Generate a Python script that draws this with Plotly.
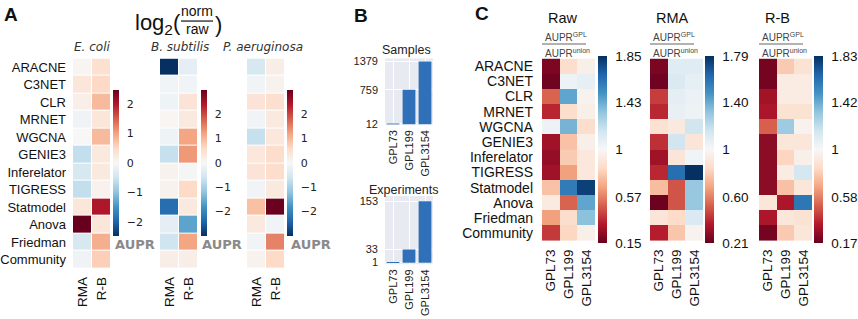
import plotly.graph_objects as go

W, H = 858, 319

# ---------------- data ----------------
methods = ["ARACNE", "C3NET", "CLR", "MRNET", "WGCNA", "GENIE3", "Inferelator",
           "TIGRESS", "Statmodel", "Anova", "Friedman", "Community"]
norms = ["RMA", "R-B"]
species = ["E. coli", "B. subtilis", "P. aeruginosa"]

# Panel A: log2(norm/raw) of AUPR
ecoli_rma = [0.05, 0.3, 0.15, -0.1, 0.0, -0.6, -0.4, -0.6, 0.3, 2.47, -0.4, -0.1]
ecoli_rb = [0.4, 0.5, 0.8, 0.3, 0.8, 0.25, 0.25, 0.1, 2.0, 0.3, 0.9, 0.6]
bsub_rma = [-3.0, -0.1, -0.15, 0.05, -0.15, -0.7, 0.1, 0.1, -2.3, -0.3, -0.6, 0.2]
bsub_rb = [-0.3, -0.1, 0.4, 0.3, 1.2, 1.3, -0.05, 0.6, 0.3, -1.6, 1.2, 0.2]
paer_rma = [-0.5, -0.1, 0.4, -0.1, -0.7, 0.35, 0.4, -0.1, 0.9, 0.3, -0.1, 0.1]
paer_rb = [0.2, 0.1, 0.5, 0.3, 0.35, 0.55, 0.55, 0.3, 2.98, -0.1, 1.5, 0.6]
a_limits = [2.47, 3.0, 3.0]
a_ticks = [-2, -1, 0, 1, 2]
a_ticktext = ["\u22122", "\u22121", "0", "1", "2"]

# Panel B
platforms = ["GPL73", "GPL199", "GPL3154"]
samples = [12, 759, 1379]
experiments = [1, 33, 153]

# Panel C: AUPR_GPL / AUPR_union
raw_gpl73 = [0.2, 0.17, 0.5, 0.35, 1.05, 0.28, 0.25, 0.28, 0.75, 0.92, 0.65, 0.4]
raw_gpl199 = [0.85, 1.05, 1.45, 0.85, 1.4, 0.75, 0.78, 0.65, 1.6, 0.5, 0.85, 0.82]
raw_gpl3154 = [0.95, 1.08, 0.97, 0.95, 0.85, 0.95, 0.9, 0.9, 1.8, 1.45, 1.35, 0.95]
rma_gpl73 = [0.25, 0.23, 0.45, 0.4, 0.88, 0.42, 0.33, 0.4, 0.75, 0.22, 0.9, 0.38]
rma_gpl199 = [1.1, 1.12, 1.08, 1.06, 0.92, 1.15, 0.9, 1.6, 0.5, 0.5, 0.85, 0.78]
rma_gpl3154 = [1.1, 1.07, 1.05, 1.04, 1.15, 0.9, 1.03, 1.79, 1.3, 1.3, 1.12, 0.97]
rb_gpl73 = [0.2, 0.2, 0.3, 0.32, 0.5, 0.25, 0.25, 0.25, 0.25, 0.9, 0.32, 0.2]
rb_gpl199 = [0.78, 0.93, 0.93, 0.88, 1.3, 0.9, 0.82, 0.93, 0.75, 0.32, 0.9, 0.78]
rb_gpl3154 = [0.88, 0.93, 0.93, 0.88, 0.97, 0.9, 0.95, 1.15, 0.9, 1.6, 0.88, 0.9]
c_titles = ["Raw", "RMA", "R-B"]
c_ticks = [[0.15, 0.57, 1, 1.43, 1.85], [0.21, 0.60, 1, 1.40, 1.79], [0.17, 0.58, 1, 1.42, 1.83]]
c_ticktext = [["0.15", "0.57", "1", "1.43", "1.85"], ["0.21", "0.60", "1", "1.40", "1.79"],
              ["0.17", "0.58", "1", "1.42", "1.83"]]

# ---------------- styling ----------------
RDBU = ['#67001f', '#b2182b', '#d6604d', '#f4a582', '#fddbc7', '#f7f7f7',
        '#d1e5f0', '#92c5de', '#4393c3', '#2166ac', '#053061']
rdbu = [[i / (len(RDBU) - 1), c] for i, c in enumerate(RDBU)]
rdbu_r = [[i / (len(RDBU) - 1), c] for i, c in enumerate(RDBU[::-1])]
SANS = "Liberation Sans, Arial, sans-serif"
DJ = "DejaVu Sans, sans-serif"


def xd(a, b):
    return [a / W, b / W]


def yd(top, bottom):
    return [1 - bottom / H, 1 - top / H]


def py(v):
    return 1 - v / H


fig = go.Figure()
layout = dict(width=W, height=H, margin=dict(l=0, r=0, t=0, b=0),
              paper_bgcolor="white", plot_bgcolor="white", showlegend=False)

# ---------------- Panel A ----------------
a_data = [(ecoli_rma, ecoli_rb), (bsub_rma, bsub_rb), (paer_rma, paer_rb)]
a_x = [(73, 111), (160, 198), (247, 285)]
a_cb = [113, 201, 287]
for i, ((rma, rb), (x0, x1)) in enumerate(zip(a_data, a_x)):
    n = i + 1
    z = [[r, b] for r, b in zip(rma, rb)]
    lim = a_limits[i]
    fig.add_trace(go.Heatmap(
        z=z, x=norms, y=methods, xaxis=f"x{n}", yaxis=f"y{n}",
        colorscale=rdbu_r, zmin=-lim, zmax=lim, xgap=1, ygap=1,
        colorbar=dict(x=a_cb[i] / W, xanchor="left", xpad=0, y=py(164),
                      yanchor="middle", ypad=0, lenmode="pixels", len=146,
                      thicknessmode="pixels", thickness=6,
                      outlinewidth=0, tickvals=a_ticks, ticktext=a_ticktext, ticks="outside",
                      ticklen=6, tickcolor="rgba(0,0,0,0)",
                      tickfont=dict(family=DJ, size=11, color="#222"))))
    layout[f"xaxis{n}"] = dict(domain=xd(x0, x1), anchor=f"y{n}", tickangle=-90,
                               tickmode="array", tickvals=norms,
                               tickfont=dict(family=SANS, size=13.5, color="#111"),
                               ticks="", ticklabelstandoff=5, showgrid=False, zeroline=False)
    layout[f"yaxis{n}"] = dict(domain=yd(57, 272), anchor=f"x{n}", autorange="reversed",
                               tickmode="array", tickvals=methods,
                               showticklabels=(i == 0), ticks="", ticklabelstandoff=6,
                               tickfont=dict(family=SANS, size=13, color="#111"),
                               showgrid=False, zeroline=False)

# ---------------- Panel B ----------------
b_specs = [(4, samples, (57, 125), [-12, 1445]), (5, experiments, (198, 268), [-3.5, 166])]
for n, vals, (t, b), rng in b_specs:
    fig.add_trace(go.Bar(x=platforms, y=vals, xaxis=f"x{n}", yaxis=f"y{n}",
                         marker=dict(color="#3070B8", line=dict(width=0)), width=0.8))
    layout[f"xaxis{n}"] = dict(domain=xd(385, 433), anchor=f"y{n}", tickangle=-90,
                               showgrid=True, gridcolor="white", gridwidth=1,
                               tickfont=dict(family=SANS, size=11, color="#222"),
                               ticks="", ticklabelstandoff=2, zeroline=False)
    layout[f"yaxis{n}"] = dict(domain=yd(t, b), anchor=f"x{n}", range=rng,
                               tickvals=vals, showgrid=True, gridcolor="white", gridwidth=1,
                               tickfont=dict(family=SANS, size=11, color="#222"),
                               ticks="", ticklabelstandoff=6, zeroline=False)

# ---------------- Panel C ----------------
c_data = [(raw_gpl73, raw_gpl199, raw_gpl3154), (rma_gpl73, rma_gpl199, rma_gpl3154),
          (rb_gpl73, rb_gpl199, rb_gpl3154)]
c_x = [(542, 595), (650, 703), (759, 812)]
c_cb = [598, 705, 814]
for i, (cols, (x0, x1)) in enumerate(zip(c_data, c_x)):
    n = i + 6
    z = [list(r) for r in zip(*cols)]
    tv = c_ticks[i]
    fig.add_trace(go.Heatmap(
        z=z, x=platforms, y=methods, xaxis=f"x{n}", yaxis=f"y{n}",
        colorscale=rdbu, zmin=tv[0], zmax=tv[-1],
        colorbar=dict(x=c_cb[i] / W, xanchor="left", xpad=0, y=py(150.5),
                      yanchor="middle", ypad=0, lenmode="pixels", len=187,
                      thicknessmode="pixels", thickness=9,
                      outlinewidth=0, tickvals=tv, ticktext=c_ticktext[i], ticks="outside",
                      ticklen=6, tickcolor="rgba(0,0,0,0)",
                      tickfont=dict(family=SANS, size=13.5, color="#111"))))
    layout[f"xaxis{n}"] = dict(domain=xd(x0, x1), anchor=f"y{n}", tickangle=-90,
                               tickmode="array", tickvals=platforms,
                               tickfont=dict(family=SANS, size=13.5, color="#111"),
                               ticks="", ticklabelstandoff=5, showgrid=False, zeroline=False)
    layout[f"yaxis{n}"] = dict(domain=yd(57, 244), anchor=f"x{n}", autorange="reversed",
                               tickmode="array", tickvals=methods,
                               showticklabels=(i == 0), ticks="", ticklabelstandoff=8,
                               tickfont=dict(family=SANS, size=14, color="#111"),
                               showgrid=False, zeroline=False)

# ---------------- annotations & shapes ----------------
ann = []
shapes = []


def text(x, y, s, size, family=SANS, color="#111", xanchor="center", bold=False, italic=False):
    if bold:
        s = f"<b>{s}</b>"
    if italic:
        s = f"<i>{s}</i>"
    ann.append(dict(x=x / W, y=py(y), xref="paper", yref="paper", text=s, showarrow=False,
                    xanchor=xanchor, yanchor="middle",
                    font=dict(family=family, size=size, color=color)))


text(2, 12, "A", 19, xanchor="left", bold=True)
text(352, 13, "B", 19, xanchor="left", bold=True)
text(473, 11, "C", 19, xanchor="left", bold=True)

# log2(norm/raw)
text(183, 22, "log<sub>2</sub>(", 22, xanchor="right")
text(197, 8, "norm", 14)
text(197, 27, "raw", 14)
shapes.append(dict(type="line", xref="paper", yref="paper", x0=181 / W, x1=213 / W,
                   y0=py(18.5), y1=py(18.5), line=dict(color="#111", width=1.2)))
text(213, 22, ")", 22, xanchor="left")

# species subtitles
for s, cx in zip(species, [92, 180, 263]):
    text(cx, 45, s, 12, family=DJ, color="#333", italic=True)
for xl in [113, 200, 289]:
    text(xl, 248, "AUPR", 13, family=DJ, color="#8a8a8a", xanchor="left", bold=True)

# Panel B titles and backgrounds
text(406, 48, "Samples", 12.5, color="#222")
text(403, 192, "Experiments", 12.5, color="#222")
for n in (4, 5):
    shapes.append(dict(type="rect", xref=f"x{n} domain", yref=f"y{n} domain", x0=0, x1=1,
                       y0=0, y1=1, fillcolor="#E8EAF2", line=dict(width=0), layer="below"))

# Panel C titles and AUPR ratio labels
for t, (x0, x1) in zip(c_titles, c_x):
    text(x0 + 4, 15, t, 14.5, color="#111", xanchor="left")
    text(x0 + 1, 35, "AUPR<sup>GPL</sup>", 10, color="#444", xanchor="left")
    text(x0 + 1, 51, "AUPR<sup>union</sup>", 10, color="#444", xanchor="left")
    shapes.append(dict(type="line", xref="paper", yref="paper", x0=x0 / W, x1=(x0 + 44) / W,
                       y0=py(42), y1=py(42), line=dict(color="#999", width=1.5)))

layout["annotations"] = ann
layout["shapes"] = shapes
fig.update_layout(**layout)
fig.write_html("out.html", config={"displayModeBar": False},
               post_script="document.body.style.margin='0';document.body.style.padding='0';"
                           "document.body.style.overflow='hidden';")
